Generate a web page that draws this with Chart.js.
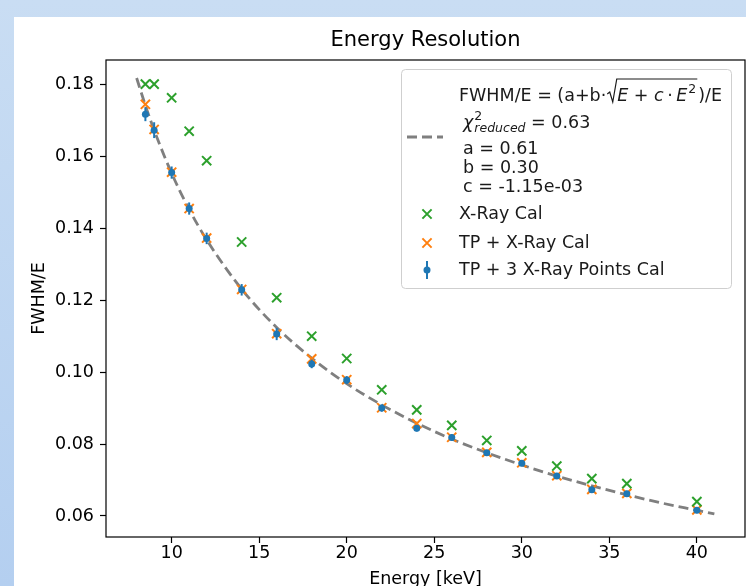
<!DOCTYPE html>
<html>
<head>
<meta charset="utf-8">
<script src="https://cdn.jsdelivr.net/npm/chart.js@4.4.1/dist/chart.umd.min.js"></script>
<style>
  html, body { margin: 0; padding: 0; }
  body {
    width: 746px; height: 586px; overflow: hidden; position: relative;
    background: linear-gradient(to bottom, #c9ddf3, #b4cff0);
  }
  #panel { position: absolute; left: 14px; top: 17px; right: 0; bottom: 0; background: #fff; }
  #wrap { position: absolute; left: 0; top: 0; width: 760px; height: 600px; }
</style>
</head>
<body>
<div id="panel"></div>
<div id="wrap"><canvas id="chart" width="760" height="600"></canvas></div>
<script>
// --- Data ------------------------------------------------------------------------------
const energies = [8.5, 9, 10, 11, 12, 14, 16, 18, 20, 22, 24, 26, 28, 30, 32, 34, 36, 40]

// X-Ray Cal (green x)
const xrayCal = [0.1801, 0.1801, 0.1763, 0.1670, 0.1588, 0.1362, 0.1207, 0.1100, 0.1038,
                 0.0951, 0.0895, 0.0852, 0.0810, 0.0781, 0.0739, 0.0704, 0.0690, 0.0640]

// TP + X-Ray Cal (orange x)
const tpXrayCal = [0.1745, 0.1675, 0.1556, 0.1455, 0.1373, 0.1230, 0.1107, 0.1037, 0.0979,
                   0.0901, 0.0857, 0.0819, 0.0777, 0.0748, 0.0712, 0.0674, 0.0663, 0.0617]

// TP + 3 X-Ray Points Cal (blue dots with error bars)
const tp3Cal = [0.1717, 0.1673, 0.1555, 0.1455, 0.1372, 0.1229, 0.1106, 0.1023, 0.0978,
                0.0900, 0.0844, 0.0818, 0.0776, 0.0747, 0.0711, 0.0673, 0.0662, 0.0616]
const tp3Err = [0.0019, 0.0022, 0.0017, 0.0017, 0.0016, 0.0016, 0.0017, 0.0012, 0.0011,
                0.0010, 0.0009, 0.0009, 0.0008, 0.0008, 0.0008, 0.0008, 0.0008, 0.0008]

// dashed fit curve, sampled along the drawn line
const fitEnergies = [8, 8.5, 9, 10, 11, 12, 14, 16, 18, 20, 22, 24, 26, 28, 30, 32, 34, 36, 38, 40, 41]
const fitValues = [0.1818, 0.1742, 0.1673, 0.1553, 0.1453, 0.1368, 0.1231, 0.1124, 0.1039, 0.0968,
                   0.0909, 0.0858, 0.0814, 0.0776, 0.0742, 0.0711, 0.0684, 0.0659, 0.0636, 0.0616, 0.0606]

const xTicks = [10, 15, 20, 25, 30, 35, 40]
const yTicks = [0.06, 0.08, 0.10, 0.12, 0.14, 0.16, 0.18]

const fitLabel = ['a = 0.61', 'b = 0.30', 'c = -1.15e-03']
const chiValue = ' = 0.63'

// --- Styling -------------------------------------------------------------------------------
const FONT = 'DejaVu Sans'
const BASE = 17.5
const GREEN = '#2ca02c'
const ORANGE = '#ff7f0e'
const BLUE = '#1f77b4'
const GREY = '#7f7f7f'
const INK = '#1a1a1a'

function pts(xs, ys) {
    return xs.map((x, i) => ({ x: x, y: ys[i] }))
}

// --- Plugins ------------------------------------------------------------------------------
// vertical error bars under the blue dots
const errorBars = {
    id: 'errorBars',
    beforeDatasetDraw(chart, args) {
        if (args.index !== 3) return
        const { ctx, scales: { x, y } } = chart
        ctx.save()
        ctx.strokeStyle = BLUE
        ctx.lineWidth = 2
        energies.forEach((e, i) => {
            const px = x.getPixelForValue(e)
            ctx.beginPath()
            ctx.moveTo(px, y.getPixelForValue(tp3Cal[i] - tp3Err[i]))
            ctx.lineTo(px, y.getPixelForValue(tp3Cal[i] + tp3Err[i]))
            ctx.stroke()
        })
        ctx.restore()
    }
}

// black box around the axes (matplotlib style)
const frame = {
    id: 'frame',
    afterDatasetsDraw(chart) {
        const { ctx, chartArea: a } = chart
        ctx.save()
        ctx.strokeStyle = '#000'
        ctx.lineWidth = 1.2
        ctx.strokeRect(a.left, a.top, a.right - a.left, a.bottom - a.top)
        ctx.restore()
    }
}

// helper: draw a text piece and return the x where the next one starts
function piece(ctx, text, x, y, font) {
    ctx.font = font
    ctx.fillText(text, x, y)
    return x + ctx.measureText(text).width
}

// legend box with the fit formula (upper right)
const fitLegend = {
    id: 'fitLegend',
    afterDraw(chart) {
        const { ctx, chartArea: a } = chart
        const W = 330, H = 219
        const L = a.right - 14 - W
        const T = a.top + 9
        const reg = `${BASE}px "${FONT}"`
        const ital = `oblique ${BASE}px "${FONT}"`
        const small = `12.5px "${FONT}"`
        const smallItal = `oblique 12.5px "${FONT}"`

        ctx.save()
        ctx.fillStyle = 'rgba(255,255,255,0.85)'
        ctx.strokeStyle = '#cfcfcf'
        ctx.lineWidth = 1
        ctx.beginPath()
        ctx.roundRect(L + 0.5, T + 0.5, W, H, 4)
        ctx.fill()
        ctx.stroke()

        ctx.fillStyle = INK
        ctx.textBaseline = 'alphabetic'
        ctx.textAlign = 'left'

        // line 1: FWHM/E = (a+b·sqrt(E + c·E^2))/E
        let base = T + 32
        let x = piece(ctx, 'FWHM/E = (a+b\u00b7', L + 58, base, reg)
        const rx = x + 1
        ctx.strokeStyle = INK
        ctx.lineWidth = 1.2
        x = rx + 10
        x = piece(ctx, 'E', x, base, ital)
        x = piece(ctx, ' + ', x, base, reg)
        x = piece(ctx, 'c', x, base, ital)
        x = piece(ctx, '\u2009\u00b7\u2009', x, base, reg)
        x = piece(ctx, 'E', x, base, ital)
        x = piece(ctx, '2', x + 1, base - 8, small)
        ctx.beginPath()
        ctx.moveTo(rx, base - 7)
        ctx.lineTo(rx + 2.5, base - 9)
        ctx.lineTo(rx + 5.5, base + 1)
        ctx.lineTo(rx + 9.5, base - 22)
        ctx.lineTo(x + 1, base - 22)
        ctx.stroke()
        piece(ctx, ')/E', x + 2, base, reg)

        // line 2: chi^2_reduced = 0.63
        base = T + 59
        x = piece(ctx, '\u03c7', L + 62, base, ital)
        piece(ctx, '2', x + 1, base - 8, small)
        x = piece(ctx, 'reduced', x + 1, base + 4, smallItal)
        piece(ctx, chiValue, x, base, reg)

        // fit parameters
        fitLabel.forEach((t, i) => piece(ctx, t, L + 62, T + 85 + i * 19, reg))

        // dashed handle
        ctx.strokeStyle = GREY
        ctx.lineWidth = 2.8
        ctx.setLineDash([10, 5])
        ctx.beginPath()
        ctx.moveTo(L + 6, T + 68)
        ctx.lineTo(L + 42, T + 68)
        ctx.stroke()
        ctx.setLineDash([])

        // marker handles
        const hx = L + 26
        const cross = (cy, color) => {
            ctx.strokeStyle = color
            ctx.lineWidth = 2
            ctx.beginPath()
            ctx.moveTo(hx - 4.6, cy - 4.6); ctx.lineTo(hx + 4.6, cy + 4.6)
            ctx.moveTo(hx + 4.6, cy - 4.6); ctx.lineTo(hx - 4.6, cy + 4.6)
            ctx.stroke()
        }
        cross(T + 145, GREEN)
        cross(T + 174, ORANGE)
        ctx.strokeStyle = BLUE
        ctx.lineWidth = 2
        ctx.beginPath()
        ctx.moveTo(hx, T + 192); ctx.lineTo(hx, T + 210)
        ctx.stroke()
        ctx.fillStyle = BLUE
        ctx.beginPath()
        ctx.arc(hx, T + 201, 3.5, 0, Math.PI * 2)
        ctx.fill()

        ctx.fillStyle = INK
        ctx.textBaseline = 'middle'
        piece(ctx, 'X-Ray Cal', L + 58, T + 145.5, reg)
        piece(ctx, 'TP + X-Ray Cal', L + 58, T + 174.5, reg)
        piece(ctx, 'TP + 3 X-Ray Points Cal', L + 58, T + 201.5, reg)
        ctx.restore()
    }
}

// --- Chart -------------------------------------------------------------------------------
const tickFont = { family: FONT, size: BASE, lineHeight: 1 }
const axisGrid = {
    display: true,
    drawOnChartArea: false,
    drawTicks: true,
    tickLength: 6,
    tickColor: '#000',
    tickWidth: 1.2
}

new Chart(document.getElementById('chart'), {
    type: 'scatter',
    data: {
        datasets: [
            {
                label: 'fit',
                data: pts(fitEnergies, fitValues),
                showLine: true,
                borderColor: GREY,
                borderDash: [10, 5],
                borderWidth: 2.8,
                pointRadius: 0,
                cubicInterpolationMode: 'monotone',
                order: 4
            },
            {
                label: 'X-Ray Cal',
                data: pts(energies, xrayCal),
                pointStyle: 'crossRot',
                pointRadius: 6.5,
                borderColor: GREEN,
                borderWidth: 2,
                order: 1
            },
            {
                label: 'TP + X-Ray Cal',
                data: pts(energies, tpXrayCal),
                pointStyle: 'crossRot',
                pointRadius: 6.5,
                borderColor: ORANGE,
                borderWidth: 2,
                order: 3
            },
            {
                label: 'TP + 3 X-Ray Points Cal',
                data: pts(energies, tp3Cal),
                pointStyle: 'circle',
                pointRadius: 3.5,
                backgroundColor: BLUE,
                borderWidth: 0,
                order: 2
            }
        ]
    },
    options: {
        responsive: false,
        animation: false,
        devicePixelRatio: 1,
        layout: { padding: { top: 0, left: 0, right: 15, bottom: 0 } },
        plugins: {
            legend: { display: false },
            tooltip: { enabled: false },
            title: {
                display: true,
                text: 'Energy Resolution',
                fullSize: false,
                color: '#000',
                font: { family: FONT, size: 21, weight: 'normal', lineHeight: 1.2 },
                padding: { top: 28.4, bottom: 6.4 }
            }
        },
        scales: {
            x: {
                type: 'linear',
                min: 6.25,
                max: 42.75,
                afterBuildTicks: s => { s.ticks = xTicks.map(v => ({ value: v })) },
                afterFit: s => { s.height = 63 },
                ticks: { font: tickFont, color: '#000', padding: 2, maxRotation: 0, autoSkip: false, callback: v => String(v) },
                grid: axisGrid,
                border: { display: false },
                title: {
                    display: true,
                    text: 'Energy [keV]',
                    color: '#000',
                    font: { family: FONT, size: BASE, lineHeight: 1.2 },
                    padding: { top: 0, bottom: 9.8 }
                }
            },
            y: {
                type: 'linear',
                min: 0.05416,
                max: 0.18681,
                afterBuildTicks: s => { s.ticks = yTicks.map(v => ({ value: v })) },
                afterFit: s => { s.width = 106 },
                ticks: { font: tickFont, color: '#000', padding: 6, autoSkip: false, callback: v => v.toFixed(2) },
                grid: axisGrid,
                border: { display: false },
                title: {
                    display: true,
                    text: 'FWHM/E',
                    color: '#000',
                    font: { family: FONT, size: BASE, lineHeight: 1.2 },
                    padding: { top: 29, bottom: 0 }
                }
            }
        }
    },
    plugins: [errorBars, frame, fitLegend]
})
</script>
</body>
</html>
